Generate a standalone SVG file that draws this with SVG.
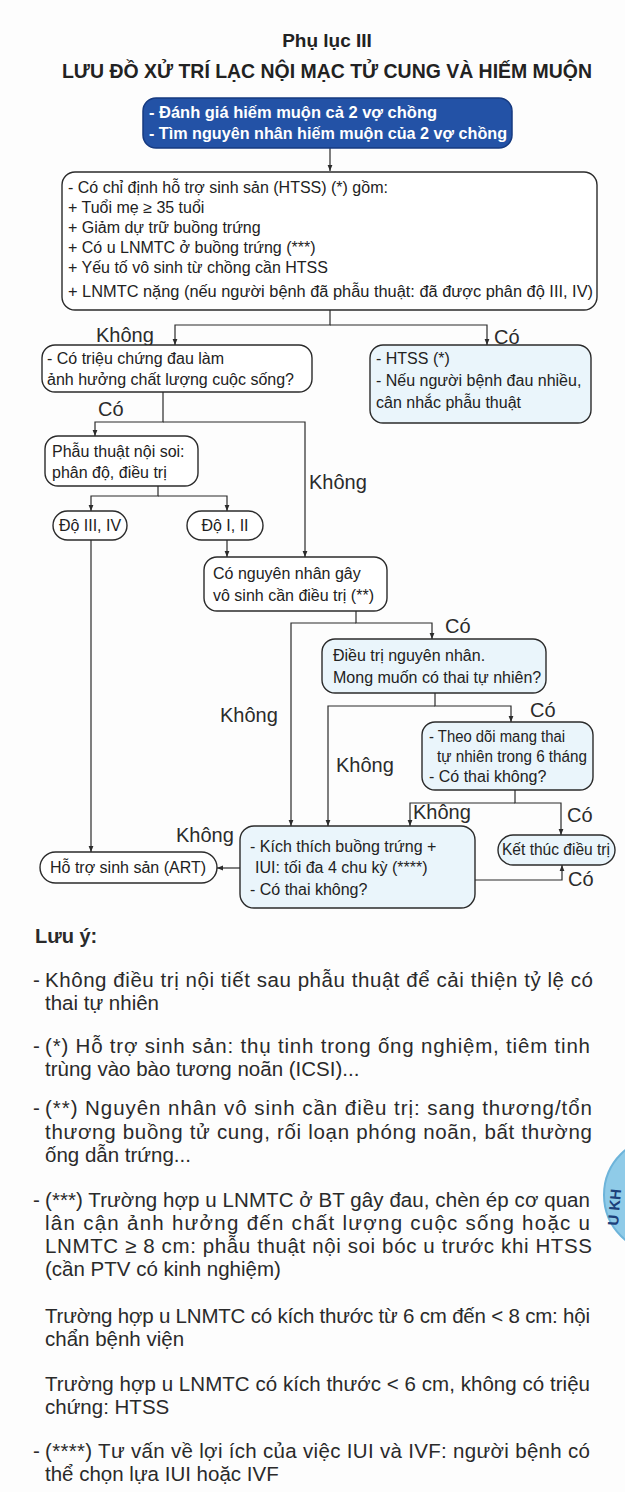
<svg xmlns="http://www.w3.org/2000/svg" width="625" height="1492" viewBox="0 0 625 1492">
<defs>
<marker id="ah" viewBox="0 0 10 10" refX="10" refY="5" markerWidth="6" markerHeight="6" orient="auto" markerUnits="userSpaceOnUse"><path d="M0,1 L10,5 L0,9 z" fill="#2b2b2b"/></marker>
<style>
.t{font-family:"Liberation Sans",Arial,sans-serif;fill:#222;}
.bx{font-size:16px;}
.lb{font-size:20px;fill:#2b2b2b;}
.nt{font-size:20.5px;fill:#2a2a2a;}
.box{fill:#ffffff;stroke:#2b2b2b;stroke-width:1.4;}
.boxb{fill:#eaf5fb;stroke:#2b2b2b;stroke-width:1.4;}
.c{fill:none;stroke:#2b2b2b;stroke-width:1.2;}
.ca{fill:none;stroke:#2b2b2b;stroke-width:1.2;marker-end:url(#ah);}
</style>
</defs>
<rect width="625" height="1492" fill="#fdfdfd"/>

<g id="title">
<text class="t" x="327" y="47" font-size="19" font-weight="bold" text-anchor="middle">Phụ lục III</text>
<text class="t" x="62" y="78" font-size="20" font-weight="bold" textLength="530" lengthAdjust="spacingAndGlyphs">LƯU ĐỒ XỬ TRÍ LẠC NỘI MẠC TỬ CUNG VÀ HIẾM MUỘN</text>
</g>

<g id="connectors">
<path class="ca" d="M330,148 V171"/>
<path class="ca" d="M330,310 V325 H175 V345"/>
<path class="ca" d="M330,325 H487 V345"/>
<path class="ca" d="M163,392 V422 H95 V436"/>
<path class="ca" d="M163,422 H305 V557"/>
<path class="ca" d="M158,486 V496 H91 V511"/>
<path class="ca" d="M158,496 H227 V511"/>
<path class="ca" d="M227,540 V557"/>
<path class="ca" d="M91,540 V852"/>
<path class="ca" d="M356,611 V623 H432 V639"/>
<path class="ca" d="M356,623 H291 V826"/>
<path class="ca" d="M435,693 V706 H511 V722"/>
<path class="ca" d="M435,706 H328 V826"/>
<path class="ca" d="M515,790 V803 H561 V835"/>
<path class="ca" d="M515,803 H410 V826"/>
<path class="ca" d="M475,880 H562 V865"/>
<path class="ca" d="M240,868 H217"/>
</g>

<g id="labels">
<text class="t lb" x="96" y="342">Không</text>
<text class="t lb" x="494" y="344">Có</text>
<text class="t lb" x="98" y="416">Có</text>
<text class="t lb" x="309" y="489">Không</text>
<text class="t lb" x="445" y="633">Có</text>
<text class="t lb" x="220" y="722">Không</text>
<text class="t lb" x="530" y="717">Có</text>
<text class="t lb" x="336" y="772">Không</text>
<text class="t lb" x="413" y="819">Không</text>
<text class="t lb" x="567" y="822">Có</text>
<text class="t lb" x="176" y="842">Không</text>
<text class="t lb" x="568" y="886">Có</text>
</g>

<g id="n1">
<rect x="143" y="98" width="369" height="50" rx="13" fill="#2352a6" stroke="#163a80" stroke-width="1.5"/>
<text class="t" x="149" y="118" font-size="16" font-weight="bold" style="fill:#fff" textLength="288" lengthAdjust="spacingAndGlyphs">- Đánh giá hiếm muộn cả 2 vợ chồng</text>
<text class="t" x="149" y="139" font-size="16" font-weight="bold" style="fill:#fff" textLength="358" lengthAdjust="spacingAndGlyphs">- Tìm nguyên nhân hiếm muộn của 2 vợ chồng</text>
</g>

<g id="n2">
<rect class="box" x="62" y="172" width="535" height="138" rx="13"/>
<text class="t bx" x="68" y="193">- Có chỉ định hỗ trợ sinh sản (HTSS) (*) gồm:</text>
<text class="t bx" x="68" y="213">+ Tuổi mẹ ≥ 35 tuổi</text>
<text class="t bx" x="68" y="233">+ Giảm dự trữ buồng trứng</text>
<text class="t bx" x="68" y="253">+ Có u LNMTC ở buồng trứng (***)</text>
<text class="t bx" x="68" y="273">+ Yếu tố vô sinh từ chồng cần HTSS</text>
<text class="t bx" x="68" y="297" textLength="525" lengthAdjust="spacingAndGlyphs">+ LNMTC nặng (nếu người bệnh đã phẫu thuật: đã được phân độ III, IV)</text>
</g>

<g id="n3">
<rect class="box" x="42" y="345" width="270" height="47" rx="13"/>
<text class="t bx" x="47" y="364">- Có triệu chứng đau làm</text>
<text class="t bx" x="47" y="385">ảnh hưởng chất lượng cuộc sống?</text>
</g>

<g id="n4">
<rect class="boxb" x="370" y="345" width="221" height="78" rx="13"/>
<text class="t bx" x="376" y="364">- HTSS (*)</text>
<text class="t bx" x="376" y="386">- Nếu người bệnh đau nhiều,</text>
<text class="t bx" x="376" y="408">cân nhắc phẫu thuật</text>
</g>

<g id="n5">
<rect class="box" x="45" y="436" width="153" height="50" rx="13"/>
<text class="t bx" x="52" y="457">Phẫu thuật nội soi:</text>
<text class="t bx" x="52" y="478">phân độ, điều trị</text>
</g>

<g id="n6">
<rect class="box" x="53" y="511" width="74" height="29" rx="14.5"/>
<text class="t bx" x="90" y="531" text-anchor="middle">Độ III, IV</text>
</g>

<g id="n7">
<rect class="box" x="187" y="511" width="76" height="29" rx="14.5"/>
<text class="t bx" x="225" y="531" text-anchor="middle">Độ I, II</text>
</g>

<g id="n8">
<rect class="box" x="204" y="557" width="183" height="54" rx="13"/>
<text class="t bx" x="213" y="579">Có nguyên nhân gây</text>
<text class="t bx" x="213" y="601">vô sinh cần điều trị (**)</text>
</g>

<g id="n9">
<rect class="boxb" x="322" y="639" width="224" height="54" rx="13"/>
<text class="t bx" x="333" y="661">Điều trị nguyên nhân.</text>
<text class="t bx" x="333" y="683">Mong muốn có thai tự nhiên?</text>
</g>

<g id="n10">
<rect class="boxb" x="422" y="722" width="171" height="68" rx="13"/>
<text class="t bx" x="429" y="742" textLength="136" lengthAdjust="spacingAndGlyphs">- Theo dõi mang thai</text>
<text class="t bx" x="437" y="762" textLength="150" lengthAdjust="spacingAndGlyphs">tự nhiên trong 6 tháng</text>
<text class="t bx" x="429" y="782">- Có thai không?</text>
</g>

<g id="n11">
<rect class="boxb" x="498" y="835" width="117" height="30" rx="15"/>
<text class="t bx" x="556" y="855" text-anchor="middle" textLength="108" lengthAdjust="spacingAndGlyphs">Kết thúc điều trị</text>
</g>

<g id="n12">
<rect class="boxb" x="240" y="826" width="235" height="82" rx="14"/>
<text class="t bx" x="250" y="852">- Kích thích buồng trứng +</text>
<text class="t bx" x="255" y="873">IUI: tối đa 4 chu kỳ (****)</text>
<text class="t bx" x="250" y="895">- Có thai không?</text>
</g>

<g id="n13">
<rect class="box" x="40" y="852" width="177" height="31" rx="15.5"/>
<text class="t bx" x="128" y="873" text-anchor="middle">Hỗ trợ sinh sản (ART)</text>
</g>

<g id="notes">
<text class="t" x="35" y="943" font-size="20" font-weight="bold" style="fill:#2a2a2a">Lưu ý:</text>
<text class="t nt" x="33" y="987">-</text>
<text class="t nt" x="45" y="987" textLength="548" lengthAdjust="spacing">Không điều trị nội tiết sau phẫu thuật để cải thiện tỷ lệ có</text>
<text class="t nt" x="45" y="1010">thai tự nhiên</text>
<text class="t nt" x="33" y="1053">-</text>
<text class="t nt" x="45" y="1053" textLength="545" lengthAdjust="spacing">(*) Hỗ trợ sinh sản: thụ tinh trong ống nghiệm, tiêm tinh</text>
<text class="t nt" x="45" y="1076">trùng vào bào tương noãn (ICSI)...</text>
<text class="t nt" x="33" y="1115">-</text>
<text class="t nt" x="45" y="1115" textLength="547" lengthAdjust="spacing">(**) Nguyên nhân vô sinh cần điều trị: sang thương/tổn</text>
<text class="t nt" x="45" y="1139" textLength="547" lengthAdjust="spacing">thương buồng tử cung, rối loạn phóng noãn, bất thường</text>
<text class="t nt" x="45" y="1162">ống dẫn trứng...</text>
<text class="t nt" x="33" y="1207">-</text>
<text class="t nt" x="45" y="1207" textLength="545" lengthAdjust="spacing">(***)  Trường hợp u LNMTC ở BT gây đau, chèn ép cơ quan</text>
<text class="t nt" x="45" y="1230" textLength="545" lengthAdjust="spacing">lân cận ảnh hưởng đến chất lượng cuộc sống hoặc u</text>
<text class="t nt" x="45" y="1253" textLength="547" lengthAdjust="spacing">LNMTC ≥ 8 cm: phẫu thuật nội soi bóc u trước khi HTSS</text>
<text class="t nt" x="45" y="1276">(cần PTV có kinh nghiệm)</text>
<text class="t nt" x="45" y="1323" textLength="545" lengthAdjust="spacing">Trường hợp u LNMTC có kích thước từ 6 cm đến &lt; 8 cm: hội</text>
<text class="t nt" x="45" y="1346">chẩn bệnh viện</text>
<text class="t nt" x="45" y="1391" textLength="545" lengthAdjust="spacing">Trường hợp u LNMTC có kích thước &lt; 6 cm, không có triệu</text>
<text class="t nt" x="45" y="1414">chứng: HTSS</text>
<text class="t nt" x="33" y="1458">-</text>
<text class="t nt" x="45" y="1458" textLength="545" lengthAdjust="spacing">(****) Tư vấn về lợi ích của việc IUI và IVF: người bệnh có</text>
<text class="t nt" x="45" y="1481">thể chọn lựa IUI hoặc IVF</text>
</g>

<g id="tab">
<circle cx="662" cy="1195" r="58" fill="#8fcbe8" stroke="#6db4da" stroke-width="2"/>
<text class="t" x="0" y="0" font-size="15" font-weight="bold" style="fill:#1d3f7a" transform="translate(618,1226) rotate(-85)">U KH</text>
</g>
</svg>
